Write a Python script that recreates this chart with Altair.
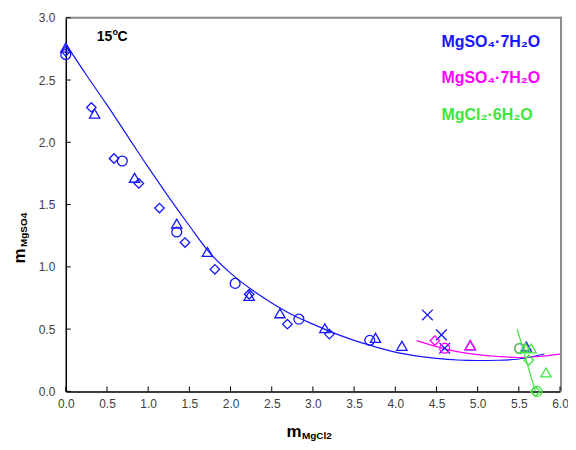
import altair as alt
import pandas as pd

# ---------------- data ----------------
x_ticks = [0.0, 0.5, 1.0, 1.5, 2.0, 2.5, 3.0, 3.5, 4.0, 4.5, 5.0, 5.5, 6.0]
y_ticks = [0.0, 0.5, 1.0, 1.5, 2.0, 2.5, 3.0]

blue_diamond_x = [0.0, 0.31, 0.585, 0.887, 1.137, 1.447, 1.81, 2.226, 2.69, 3.20]
blue_diamond_y = [2.73, 2.28, 1.87, 1.67, 1.472, 1.195, 0.98, 0.78, 0.54, 0.46]
blue_circle_x = [0.0, 0.686, 1.347, 2.056, 2.83, 3.69]
blue_circle_y = [2.705, 1.85, 1.28, 0.867, 0.58, 0.41]
blue_triangle_x = [0.0, 0.35, 0.835, 1.347, 1.72, 2.226, 2.60, 3.145, 3.76, 4.08, 4.91, 5.59]
blue_triangle_y = [2.76, 2.23, 1.715, 1.347, 1.12, 0.766, 0.627, 0.507, 0.43, 0.366, 0.37, 0.36]
blue_cross_x = [4.39, 4.56, 4.60]
blue_cross_y = [0.614, 0.454, 0.347]

pink_diamond_x = [4.48]
pink_diamond_y = [0.408]
pink_circle_x = [4.60, 5.51]
pink_circle_y = [0.347, 0.345]
pink_triangle_x = [4.91]
pink_triangle_y = [0.372]

green_circle_x = [5.51, 5.72]
green_circle_y = [0.345, 0.0]
green_triangle_x = [5.58, 5.65, 5.83]
green_triangle_y = [0.35, 0.345, 0.152]
green_diamond_x = [5.62, 5.70]
green_diamond_y = [0.25, 0.0]

blue_curve_x = [0.0, 0.25, 0.5, 0.75, 1.0, 1.25, 1.5, 1.75, 2.0, 2.25, 2.5, 2.75, 3.0,
                3.25, 3.5, 3.75, 4.0, 4.25, 4.5, 4.75, 5.0, 5.25, 5.5, 5.81]
blue_curve_y = [2.79, 2.54, 2.30, 2.05, 1.80, 1.56, 1.33, 1.11, 0.95, 0.82, 0.71, 0.615, 0.54,
                0.47, 0.41, 0.36, 0.315, 0.285, 0.265, 0.252, 0.248, 0.25, 0.26, 0.30]
pink_curve_x = [4.26, 4.5, 4.75, 5.0, 5.25, 5.5, 5.75, 6.0]
pink_curve_y = [0.408, 0.36, 0.32, 0.295, 0.28, 0.272, 0.28, 0.30]
green_curve_x = [5.48, 5.70]
green_curve_y = [0.50, 0.0]

series_labels = ["MgSO\u2084\u00b77H\u2082O", "MgSO\u2084\u00b77H\u2082O", "MgCl\u2082\u00b76H\u2082O"]

# ---------------- styling ----------------
W, H = 496, 375
BLUE = "#1515ff"
PINK = "#ff00ff"
GREEN = "#3de63d"
FONT = "Liberation Sans"

xs = alt.Scale(domain=[0, 6], nice=False, zero=False)
ys = alt.Scale(domain=[0, 3], nice=False, zero=False)
xaxis = alt.Axis(values=x_ticks, format=".1f", tickSize=0, labelPadding=7, title=None, grid=False,
                 domainColor="black", domainWidth=1.5, labelFontSize=12, labelColor="#404040",
                 labelFont=FONT, labelFlush=False, labelOverlap=False)
yaxis = alt.Axis(values=y_ticks, format=".1f", tickSize=0, labelPadding=11, title=None, grid=False,
                 domainColor="black", domainWidth=1.5, labelFontSize=12, labelColor="#404040",
                 labelFont=FONT, labelFlush=False, labelOverlap=False)


def X(f="x"):
    return alt.X(f, type="quantitative", scale=xs, axis=xaxis)


def Y(f="y"):
    return alt.Y(f, type="quantitative", scale=ys, axis=yaxis)


shape_dom = ["diamond", "circle", "triangle", "x"]
shape_rng = ["diamond", "circle", "triangle-up", "M-1,-1L1,1M-1,1L1,-1"]
size_rng = [90, 115, 120, 55]


def pts(groups, color):
    rows = []
    for shp, xv, yv in groups:
        for a, b in zip(xv, yv):
            rows.append({"x": a, "y": b, "shape": shp})
    df = pd.DataFrame(rows)
    return alt.Chart(df).mark_point(filled=False, color=color, strokeWidth=1.3, opacity=1).encode(
        x=X(), y=Y(),
        shape=alt.Shape("shape:N", scale=alt.Scale(domain=shape_dom, range=shape_rng), legend=None),
        size=alt.Size("shape:N", scale=alt.Scale(domain=shape_dom, range=size_rng), legend=None),
    )


def curve(xv, yv, color, interp="monotone"):
    df = pd.DataFrame({"x": xv, "y": yv})
    return alt.Chart(df).mark_line(color=color, strokeWidth=1.2, interpolate=interp).encode(x=X(), y=Y())


blue_line = curve(blue_curve_x, blue_curve_y, BLUE)
pink_line = curve(pink_curve_x, pink_curve_y, PINK)
green_line = curve(green_curve_x, green_curve_y, GREEN, "linear")

blue_pts = pts([("diamond", blue_diamond_x, blue_diamond_y),
                ("circle", blue_circle_x, blue_circle_y),
                ("triangle", blue_triangle_x, blue_triangle_y),
                ("x", blue_cross_x, blue_cross_y)], BLUE)
pink_pts = pts([("diamond", pink_diamond_x, pink_diamond_y),
                ("circle", pink_circle_x, pink_circle_y),
                ("triangle", pink_triangle_x, pink_triangle_y)], PINK)
green_pts = pts([("circle", green_circle_x, green_circle_y),
                 ("triangle", green_triangle_x, green_triangle_y),
                 ("diamond", green_diamond_x, green_diamond_y)], GREEN)

# frame: top and right border (grey)
frame_df = pd.DataFrame({"k": [0]})
top_border = alt.Chart(frame_df).mark_rule(color="#8c8c8c", strokeWidth=2).encode(
    x=alt.value(0), x2=alt.value(W + 1), y=alt.value(0))
right_border = alt.Chart(frame_df).mark_rule(color="#8c8c8c", strokeWidth=2).encode(
    x=alt.value(W + 1), y=alt.value(-1), y2=alt.value(H))

# inward ticks
xt = alt.Chart(pd.DataFrame({"x": x_ticks})).mark_rule(color="black", strokeWidth=1).encode(
    x=X(), y=alt.value(H), y2=alt.value(H - 5))
yt = alt.Chart(pd.DataFrame({"y": y_ticks})).mark_rule(color="black", strokeWidth=1).encode(
    y=Y(), x=alt.value(0), x2=alt.value(5))


def txt(s, x, y, size, color="black", bold=True, angle=0, align="left"):
    m = alt.Chart(frame_df).mark_text(text=s, fontSize=size, font=FONT, color=color,
                                      fontWeight="bold" if bold else "normal",
                                      align=align, baseline="middle", angle=angle)
    return m.encode(x=alt.value(x), y=alt.value(y))


texts = [
    txt("15", 31, 19, 14),
    txt("o", 46.8, 14, 9),
    txt("C", 52, 19, 14),
    txt(series_labels[0], 377, 24, 16, BLUE),
    txt(series_labels[1], 377, 60, 16, PINK),
    txt(series_labels[2], 377, 98, 16, GREEN),
    txt("m", 229, 416, 17, "black", True, 0, "center"),
    txt("MgCl2", 252, 419.5, 10, "black", True, 0, "center"),
    txt("m", -45.5, 239, 17, "black", True, 270, "center"),
    txt("MgSO4", -41.5, 213, 10, "black", True, 270, "center"),
]

chart = alt.layer(
    top_border, right_border,
    blue_line, pink_line, green_line,
    blue_pts, pink_pts, green_pts,
    xt, yt, *texts
).properties(
    width=W, height=H,
    autosize=alt.AutoSizeParams(type="none"),
    padding={"left": 58, "top": 9, "right": 8, "bottom": 49},
).configure_view(stroke=None).configure(background="white")

chart.save("out.html", embed_options={"renderer": "svg", "actions": False})
